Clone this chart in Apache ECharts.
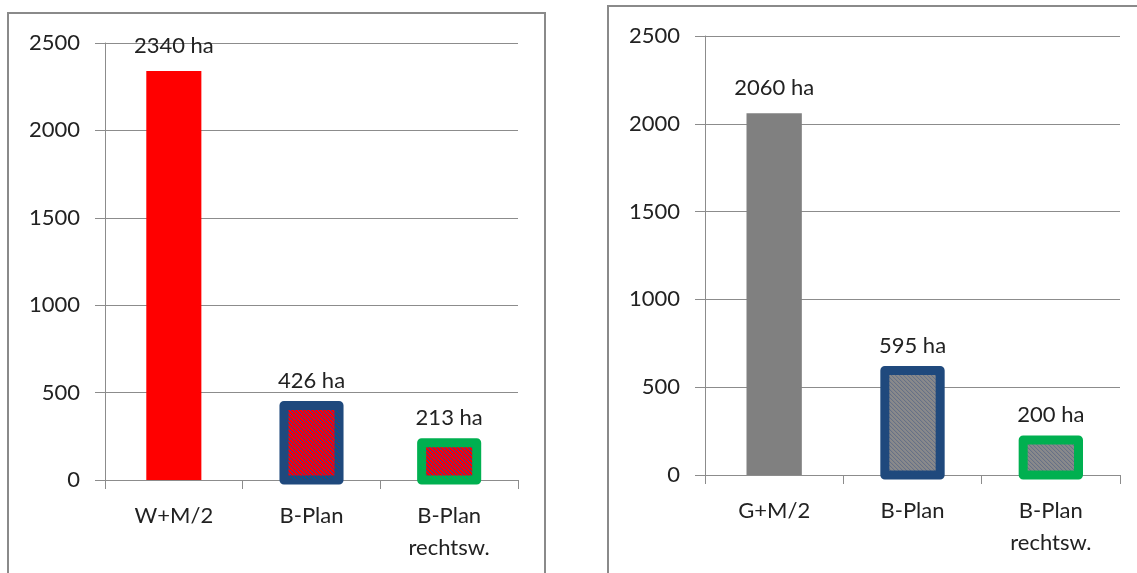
<!DOCTYPE html>
<html>
<head>
<meta charset="utf-8">
<script src="https://cdn.jsdelivr.net/npm/echarts@6/dist/echarts.min.js"></script>
<style>
  html, body { margin: 0; padding: 0; background: #fff; }
  #chart { width: 1137px; height: 573px; }
</style>
</head>
<body>
<div id="chart"></div>
<script>
// Flächen (ha) je Kategorie, zwei Teildiagramme
const categoriesLeft = ['W+M/2', 'B-Plan', 'B-Plan\nrechtsw.'];
const valuesLeft = [2340, 426, 213];
const categoriesRight = ['G+M/2', 'B-Plan', 'B-Plan\nrechtsw.'];
const valuesRight = [2060, 595, 200];
const yMax = 2500;
const yStep = 500;
const unit = 'ha';

const FONT = 'Lato, "Open Sans", sans-serif';
const TEXT = '#222222';
const GRID = '#8c8c8c';
const BAR_RATIO = 0.4;
const OUTLINE_COLORS = ['#1f497d', '#00b050'];

// diagonal hatch fill (top-left to bottom-right stripes)
function hatch(bg, fg, mid) {
  const n = 4;
  const c = document.createElement('canvas');
  c.width = n; c.height = n;
  const g = c.getContext('2d');
  g.fillStyle = bg;
  g.fillRect(0, 0, n, n);
  for (let y = 0; y < n; y++) {
    for (let x = 0; x < n; x++) {
      const k = ((x - y) % n + n) % n;
      if (k === 0) { g.fillStyle = fg; g.fillRect(x, y, 1, 1); }
      else if (k === 1) { g.fillStyle = mid; g.fillRect(x, y, 1, 1); }
    }
  }
  return { image: c, repeat: 'repeat' };
}

const redHatch = hatch('#ff0000', '#2f4c9c', '#e0001c');
const greyHatch = hatch('#8a8a8a', '#677186', '#81848c');

function barData(values, solid, pattern) {
  return values.map((v, i) => ({ value: v, itemStyle: { color: i === 0 ? solid : pattern } }));
}

function xAxis(gridIndex, cats) {
  return {
    type: 'category',
    gridIndex,
    data: cats,
    boundaryGap: true,
    axisLine: { show: true, lineStyle: { color: GRID, width: 1 } },
    axisTick: { show: true, length: 9, lineStyle: { color: GRID } },
    axisLabel: { color: TEXT, fontFamily: FONT, fontSize: 22, lineHeight: 32, margin: 20, interval: 0 }
  };
}

function yAxis(gridIndex) {
  return {
    type: 'value',
    gridIndex,
    min: 0,
    max: yMax,
    interval: yStep,
    axisLine: { show: true, lineStyle: { color: GRID, width: 1 } },
    axisTick: { show: true, length: 10, lineStyle: { color: GRID } },
    splitLine: { show: true, lineStyle: { color: GRID, width: 1 } },
    axisLabel: { color: TEXT, fontFamily: FONT, fontSize: 22, margin: 25, formatter: v => String(v) }
  };
}

function barSeries(idx, values, solid, pattern) {
  return {
    type: 'bar',
    xAxisIndex: idx,
    yAxisIndex: idx,
    barWidth: (BAR_RATIO * 100) + '%',
    data: barData(values, solid, pattern),
    label: {
      show: true,
      position: 'top',
      distance: 14,
      color: TEXT,
      fontFamily: FONT,
      fontSize: 22,
      formatter: p => p.value + ' ' + unit
    },
    emphasis: { disabled: true },
    z: 2
  };
}

// thick outline centred on the bar edges of the B-Plan bars
function outlineSeries(idx, values) {
  return {
    type: 'custom',
    xAxisIndex: idx,
    yAxisIndex: idx,
    data: values.map((v, i) => [i, v]).filter(d => d[0] > 0),
    renderItem(params, api) {
      const i = api.value(0);
      const top = api.coord([i, api.value(1)]);
      const base = api.coord([i, 0]);
      const w = api.size([1, 0])[0] * BAR_RATIO;
      return {
        type: 'rect',
        shape: { x: top[0] - w / 2, y: top[1], width: w, height: base[1] - top[1] },
        style: { fill: 'none', stroke: OUTLINE_COLORS[i - 1], lineWidth: 9, lineJoin: 'round' }
      };
    },
    silent: true,
    z: 3
  };
}

const chart = echarts.init(document.getElementById('chart'), null, { renderer: 'canvas' });
chart.setOption({
  backgroundColor: '#ffffff',
  animation: false,
  graphic: [
    { type: 'rect', shape: { x: 8, y: 13, width: 537, height: 620 },
      style: { fill: 'none', stroke: '#8a8a8a', lineWidth: 2 }, z: 0 },
    { type: 'rect', shape: { x: 608, y: 6, width: 620, height: 620 },
      style: { fill: 'none', stroke: '#8a8a8a', lineWidth: 2 }, z: 0 }
  ],
  grid: [
    { left: 105, top: 43, width: 413, height: 437 },
    { left: 705, top: 36, width: 415, height: 439 }
  ],
  xAxis: [xAxis(0, categoriesLeft), xAxis(1, categoriesRight)],
  yAxis: [yAxis(0), yAxis(1)],
  series: [
    barSeries(0, valuesLeft, '#ff0000', redHatch),
    outlineSeries(0, valuesLeft),
    barSeries(1, valuesRight, '#808080', greyHatch),
    outlineSeries(1, valuesRight)
  ]
});
</script>
</body>
</html>
